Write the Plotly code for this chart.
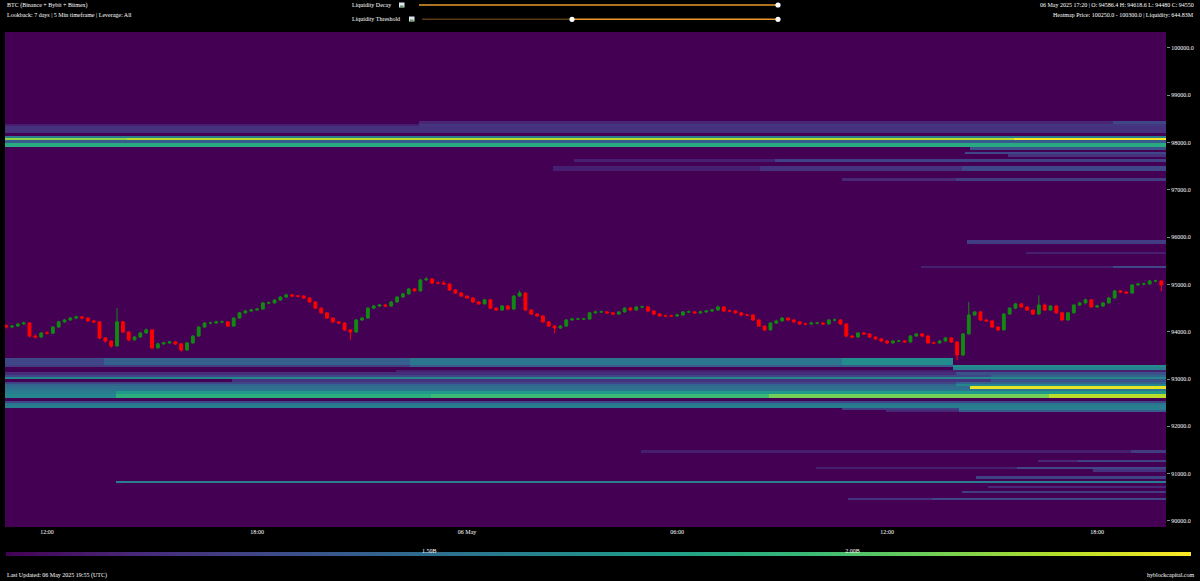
import numpy as np
import pandas as pd
import plotly.graph_objects as go

# ---------------- data ----------------
candle_start = "2025-05-05 10:50"
candle_freq = "10min"
first_open = 94130
closes = [
    94100, 94120, 94165, 94185, 93910, 93890, 93975, 93970, 94100, 94210,
    94250, 94290, 94315, 94290, 94230, 94210, 93870, 93805, 93700, 94210,
    93995, 93830, 93890, 93975, 94040, 93660, 93745, 93765, 93785, 93745,
    93615, 93765, 93910, 94100, 94185, 94185, 94210, 94210, 94120, 94290,
    94400, 94440, 94460, 94480, 94610, 94610, 94670, 94735, 94780, 94755,
    94755, 94715, 94630, 94500, 94400, 94290, 94210, 94185, 94040, 93995,
    94250, 94290, 94500, 94545, 94565, 94545, 94630, 94735, 94800, 94905,
    94865, 95095, 95115, 95030, 95030, 95010, 94885, 94820, 94755, 94715,
    94630, 94590, 94675, 94500, 94460, 94545, 94480, 94755, 94820, 94460,
    94375, 94335, 94210, 94120, 94080, 94120, 94250, 94270, 94270, 94270,
    94400, 94420, 94420, 94400, 94375, 94420, 94500, 94460, 94525, 94525,
    94440, 94375, 94335, 94335, 94335, 94355, 94420, 94420, 94400, 94420,
    94440, 94460, 94525, 94440, 94440, 94400, 94355, 94355, 94250, 94120,
    94040, 94185, 94230, 94290, 94250, 94210, 94165, 94165, 94185, 94185,
    94165, 94250, 94250, 94165, 93910, 93890, 93975, 93955, 93890, 93850,
    93805, 93765, 93805, 93805, 93785, 93910, 93955, 93910, 93765, 93765,
    93805, 93870, 93785, 93510, 93955, 94355, 94420, 94250, 94230, 94100,
    94040, 94375, 94500, 94590, 94525, 94460, 94375, 94565, 94460, 94545,
    94400, 94250, 94400, 94565, 94610, 94675, 94525, 94545, 94610, 94715,
    94865, 94840, 94820, 94990, 95010, 95010, 95075, 95075, 94990,
]
highs = [
    94160, 94140, 94190, 94215, 94200, 93940, 93995, 94010, 94120, 94235,
    94270, 94310, 94340, 94335, 94305, 94250, 94225, 93890, 93820, 94500,
    94230, 94010, 93910, 94000, 94070, 94060, 93770, 93790, 93810, 93805,
    93760, 93785, 93930, 94120, 94205, 94215, 94235, 94240, 94225, 94310,
    94420, 94465, 94485, 94505, 94630, 94640, 94690, 94755, 94805, 94800,
    94780, 94775, 94730, 94645, 94515, 94415, 94305, 94230, 94200, 94060,
    94270, 94315, 94520, 94570, 94590, 94585, 94650, 94755, 94825, 94925,
    94930, 95120, 95160, 95135, 95060, 95080, 95025, 94900, 94835, 94770,
    94730, 94650, 94695, 94690, 94520, 94565, 94560, 94775, 94870, 94835,
    94475, 94395, 94350, 94225, 94140, 94140, 94270, 94295, 94300, 94295,
    94420, 94445, 94450, 94440, 94420, 94440, 94520, 94525, 94545, 94555,
    94545, 94455, 94395, 94365, 94360, 94380, 94440, 94450, 94440, 94445,
    94465, 94485, 94560, 94540, 94470, 94460, 94415, 94380, 94370, 94265,
    94135, 94205, 94255, 94310, 94305, 94270, 94225, 94190, 94210, 94210,
    94205, 94270, 94280, 94265, 94180, 93930, 93995, 93995, 93970, 93905,
    93870, 93820, 93825, 93830, 93825, 93930, 93975, 93970, 93925, 93790,
    93825, 93890, 93885, 93800, 93975, 94630, 94440, 94440, 94270, 94245,
    94120, 94395, 94520, 94610, 94610, 94540, 94475, 94770, 94600, 94565,
    94560, 94415, 94420, 94590, 94635, 94700, 94690, 94570, 94630, 94740,
    94885, 94885, 94860, 95010, 95035, 95040, 95100, 95100, 95090,
]
lows = [
    94070, 94080, 94105, 94150, 93880, 93860, 93870, 93940, 93955, 94085,
    94190, 94235, 94270, 94265, 94210, 94185, 93840, 93770, 93660, 93690,
    93970, 93800, 93810, 93870, 93960, 93630, 93640, 93725, 93745, 93720,
    93580, 93600, 93750, 93895, 94085, 94160, 94165, 94190, 94100, 94105,
    94275, 94380, 94420, 94440, 94465, 94585, 94595, 94650, 94715, 94735,
    94730, 94695, 94610, 94480, 94380, 94270, 94190, 94165, 94020, 93830,
    93980, 94230, 94275, 94480, 94525, 94525, 94530, 94615, 94720, 94785,
    94845, 94850, 95075, 95010, 95005, 94990, 94865, 94800, 94735, 94695,
    94610, 94570, 94575, 94480, 94440, 94445, 94460, 94465, 94740, 94440,
    94355, 94315, 94190, 94100, 93970, 94060, 94105, 94230, 94245, 94250,
    94255, 94380, 94400, 94380, 94355, 94355, 94405, 94440, 94445, 94500,
    94420, 94355, 94315, 94310, 94315, 94315, 94340, 94400, 94380, 94380,
    94400, 94420, 94445, 94420, 94415, 94380, 94335, 94330, 94230, 94100,
    94010, 94025, 94165, 94210, 94230, 94190, 94145, 94140, 94145, 94160,
    94145, 94150, 94225, 94145, 93885, 93865, 93875, 93935, 93870, 93830,
    93785, 93740, 93750, 93785, 93765, 93770, 93895, 93890, 93745, 93740,
    93750, 93790, 93765, 93400, 93490, 93940, 94340, 94230, 94210, 94080,
    94010, 94025, 94360, 94480, 94505, 94440, 94355, 94360, 94440, 94445,
    94380, 94225, 94235, 94385, 94545, 94595, 94505, 94505, 94525, 94595,
    94700, 94820, 94800, 94805, 94970, 94985, 94995, 95050, 94860,
]

# liquidity bands: (price_low, price_high, [(from_time, liquidity in B), ...])
liquidity_bands = [
    (98200, 98350, [("2025-05-05 10:40", 1.20)]),
    (98350, 98400, [("2025-05-05 10:40", 1.12), ("2025-05-05 22:36", 1.22)]),
    (98400, 98450, [("2025-05-05 22:36", 1.15), ("2025-05-06 18:30", 1.30)]),
    (98100, 98150, [("2025-05-05 10:40", 1.60)]),
    (98050, 98100, [("2025-05-05 10:40", 2.15), ("2025-05-05 14:17", 2.25), ("2025-05-06 15:39", 2.40)]),
    (98000, 98050, [("2025-05-05 10:40", 1.40)]),
    (97900, 98000, [("2025-05-05 10:40", 1.85)]),
    (97850, 97900, [("2025-05-06 14:22", 1.35)]),
    (97750, 97800, [("2025-05-06 14:15", 1.30)]),
    (97700, 97750, [("2025-05-06 15:30", 1.20)]),
    (97600, 97650, [("2025-05-06 03:05", 1.12), ("2025-05-06 08:50", 1.28)]),
    (97400, 97500, [("2025-05-06 02:26", 1.12), ("2025-05-06 08:24", 1.20), ("2025-05-06 14:10", 1.30)]),
    (97200, 97250, [("2025-05-06 10:44", 1.15), ("2025-05-06 14:00", 1.25)]),
    (95850, 95950, [("2025-05-06 14:20", 1.25)]),
    (95650, 95700, [("2025-05-06 16:00", 1.12)]),
    (95350, 95400, [("2025-05-06 12:57", 1.12), ("2025-05-06 18:27", 1.30)]),
    (93300, 93450, [("2025-05-05 10:40", 1.30), ("2025-05-05 13:39", 1.42), ("2025-05-05 22:22", 1.55),
                    ("2025-05-06 10:44", 1.68), ("2025-05-06 13:53", 0.0)]),
    (93250, 93300, [("2025-05-05 10:40", 1.25), ("2025-05-05 22:22", 1.40), ("2025-05-06 13:53", 1.68)]),
    (93200, 93250, [("2025-05-06 13:53", 1.62)]),
    (93150, 93200, [("2025-05-05 22:00", 1.12)]),
    (93100, 93150, [("2025-05-05 10:40", 1.18), ("2025-05-06 14:00", 1.35)]),
    (93050, 93100, [("2025-05-05 10:40", 1.30), ("2025-05-06 15:00", 1.45)]),
    (93000, 93050, [("2025-05-05 10:40", 1.65)]),
    (92950, 93000, [("2025-05-05 17:20", 1.20), ("2025-05-06 15:00", 1.35)]),
    (92900, 92950, [("2025-05-05 10:40", 1.30), ("2025-05-06 14:00", 1.45)]),
    (92850, 92900, [("2025-05-05 10:40", 1.45), ("2025-05-06 14:00", 1.65)]),
    (92800, 92850, [("2025-05-05 10:40", 1.50), ("2025-05-06 14:24", 2.35)]),
    (92750, 92800, [("2025-05-05 10:40", 1.55)]),
    (92700, 92750, [("2025-05-05 10:40", 1.60), ("2025-05-05 14:00", 1.75)]),
    (92600, 92700, [("2025-05-05 10:40", 1.65), ("2025-05-05 14:00", 1.88), ("2025-05-05 23:00", 1.95),
                    ("2025-05-06 08:40", 2.10), ("2025-05-06 16:40", 2.25)]),
    (92500, 92550, [("2025-05-05 10:40", 1.30)]),
    (92450, 92500, [("2025-05-05 10:40", 1.55)]),
    (92400, 92450, [("2025-05-05 10:40", 1.60)]),
    (92350, 92400, [("2025-05-06 10:44", 1.25), ("2025-05-06 14:05", 1.60)]),
    (92300, 92350, [("2025-05-06 12:00", 1.15), ("2025-05-06 14:05", 1.40)]),
    (91450, 91500, [("2025-05-06 05:00", 1.12), ("2025-05-06 19:00", 1.25)]),
    (91250, 91300, [("2025-05-06 16:18", 1.15), ("2025-05-06 17:30", 1.28)]),
    (91100, 91150, [("2025-05-06 10:00", 1.12), ("2025-05-06 15:43", 1.30)]),
    (91050, 91100, [("2025-05-06 17:53", 1.20)]),
    (90900, 90950, [("2025-05-06 14:34", 1.28)]),
    (90800, 90850, [("2025-05-05 13:57", 1.60)]),
    (90700, 90750, [("2025-05-06 14:53", 1.15)]),
    (90600, 90650, [("2025-05-06 14:08", 1.25)]),
    (90450, 90500, [("2025-05-06 10:53", 1.20), ("2025-05-06 13:19", 1.30)]),
]

price_ticks = list(range(90000, 100001, 1000))
time_ticks = ["2025-05-05 12:00", "2025-05-05 18:00", "2025-05-06 00:00",
              "2025-05-06 06:00", "2025-05-06 12:00", "2025-05-06 18:00"]
time_tick_labels = ["12:00", "18:00", "06 May", "06:00", "12:00", "18:00"]
colorbar_ticks = [1.5, 2.0]
colorbar_tick_labels = ["1.50B", "2.00B"]

# ---------------- build ----------------
W, H = 1200, 581
ML, MR, MT, MB = 5, 34, 32, 54
PW, PH = W - ML - MR, H - MT - MB
FONT = "Liberation Serif"


def px(x):
    return (x - ML) / PW


def py(y):
    return (H - MB - y) / PH


times = pd.date_range(candle_start, periods=len(closes), freq=candle_freq)
opens = [first_open] + closes[:-1]

bin_size = 50
rows = np.arange(89875, 100350, bin_size)
cols = pd.date_range("2025-05-05 10:45", "2025-05-06 20:00", freq="5min")
z = np.zeros((len(rows), len(cols)))
for lo, hi, steps in liquidity_bands:
    rmask = (rows > lo) & (rows < hi)
    for k, (t0, v) in enumerate(steps):
        t0 = pd.Timestamp(t0)
        t1 = pd.Timestamp(steps[k + 1][0]) if k + 1 < len(steps) else cols[-1] + pd.Timedelta("1min")
        cmask = (cols >= t0) & (cols < t1)
        z[np.ix_(rmask, cmask)] = v

fig = go.Figure()
fig.add_trace(go.Heatmap(
    x=cols, y=rows, z=z, colorscale="Viridis", zmin=1.0, zmax=2.4, zsmooth=False,
    hoverinfo="skip",
    colorbar=dict(orientation="h", x=px(598.5), xanchor="center", y=py(554), yanchor="middle",
                  len=1185, lenmode="pixels", thickness=4, outlinewidth=0, xpad=0, ypad=0,
                  tickvals=colorbar_ticks, ticktext=colorbar_tick_labels, ticks="",
                  ticklabelposition="inside",
                  tickfont=dict(color="white", size=6, family=FONT)),
))
fig.add_trace(go.Candlestick(
    x=times, open=opens, high=highs, low=lows, close=closes,
    increasing=dict(line=dict(color="#118a11", width=1), fillcolor="#118a11"),
    decreasing=dict(line=dict(color="#ff0000", width=1), fillcolor="#ff0000"),
    whiskerwidth=0, showlegend=False,
))

ann = []


def text(x, y, s, anchor="left"):
    ann.append(dict(x=px(x), y=py(y), xref="paper", yref="paper", text=s, showarrow=False,
                    xanchor=anchor, yanchor="middle",
                    font=dict(color="white", size=6, family=FONT)))


text(5, 5, "BTC (Binance + Bybit + Bitmex)")
text(5, 15, "Lookback: 7 days | 5 Min timeframe | Leverage: All")
text(350, 5, "Liquidity Decay")
text(350, 19, "Liquidity Threshold")
text(1196, 5, "06 May 2025 17:20 | O: 94586.4 H: 94618.6 L: 94480 C: 94550", "right")
text(1196, 15, "Heatmap Price: 100250.0 - 100300.0 | Liquidity: 644.83M", "right")
text(5, 575, "Last Updated: 06 May 2025 19:55 (UTC)")
text(1196, 575, "hyblockcapital.com", "right")

shapes = []


def line(x0, x1, y, color):
    shapes.append(dict(type="line", xref="paper", yref="paper", x0=px(x0), x1=px(x1), y0=py(y), y1=py(y),
                       line=dict(color=color, width=1.5)))


def knob(x, y, r=2.6):
    shapes.append(dict(type="circle", xref="paper", yref="paper", x0=px(x - r), x1=px(x + r),
                       y0=py(y + r), y1=py(y - r), fillcolor="white", line=dict(width=0)))


def icon(x0, y0, x1, y1):
    shapes.append(dict(type="rect", xref="paper", yref="paper", x0=px(x0), x1=px(x1), y0=py(y1), y1=py(y0),
                       fillcolor="#dfe5ec", line=dict(width=0)))
    shapes.append(dict(type="rect", xref="paper", yref="paper", x0=px(x0 + 1), x1=px(x1 - 1),
                       y0=py(y1 - 0.5), y1=py(y1 - 2), fillcolor="#5aa05a", line=dict(width=0)))


icon(399, 2.5, 404.5, 7.5)
icon(409, 16.5, 414.5, 21.5)
line(419, 778, 5, "#e89a2c")
knob(778, 5)
line(422, 572, 19.3, "#5a3a12")
line(572, 778, 19.3, "#e89a2c")
knob(572, 19.3)
knob(778, 19.3)

fig.update_layout(
    width=W, height=H, autosize=False,
    margin=dict(l=ML, r=MR, t=MT, b=MB, pad=0),
    paper_bgcolor="black", plot_bgcolor="#440154",
    showlegend=False,
    font=dict(family=FONT, color="white", size=6),
    annotations=ann, shapes=shapes,
    xaxis=dict(type="date", range=["2025-05-05 10:48", "2025-05-06 19:58"],
               rangeslider=dict(visible=False), showgrid=False, zeroline=False,
               tickvals=time_ticks, ticktext=time_tick_labels, ticks="",
               tickfont=dict(color="white", size=6, family=FONT), showline=False),
    yaxis=dict(range=[89873, 100338], side="right", showgrid=False, zeroline=False,
               tickvals=price_ticks, tickformat=".1f", ticks="outside", ticklen=3,
               tickcolor="#888888", tickwidth=1,
               tickfont=dict(color="white", size=6, family=FONT), showline=False),
)

fig.write_html("out.html", config={"displayModeBar": False},
               post_script="document.body.style.margin='0';document.body.style.background='black';")
